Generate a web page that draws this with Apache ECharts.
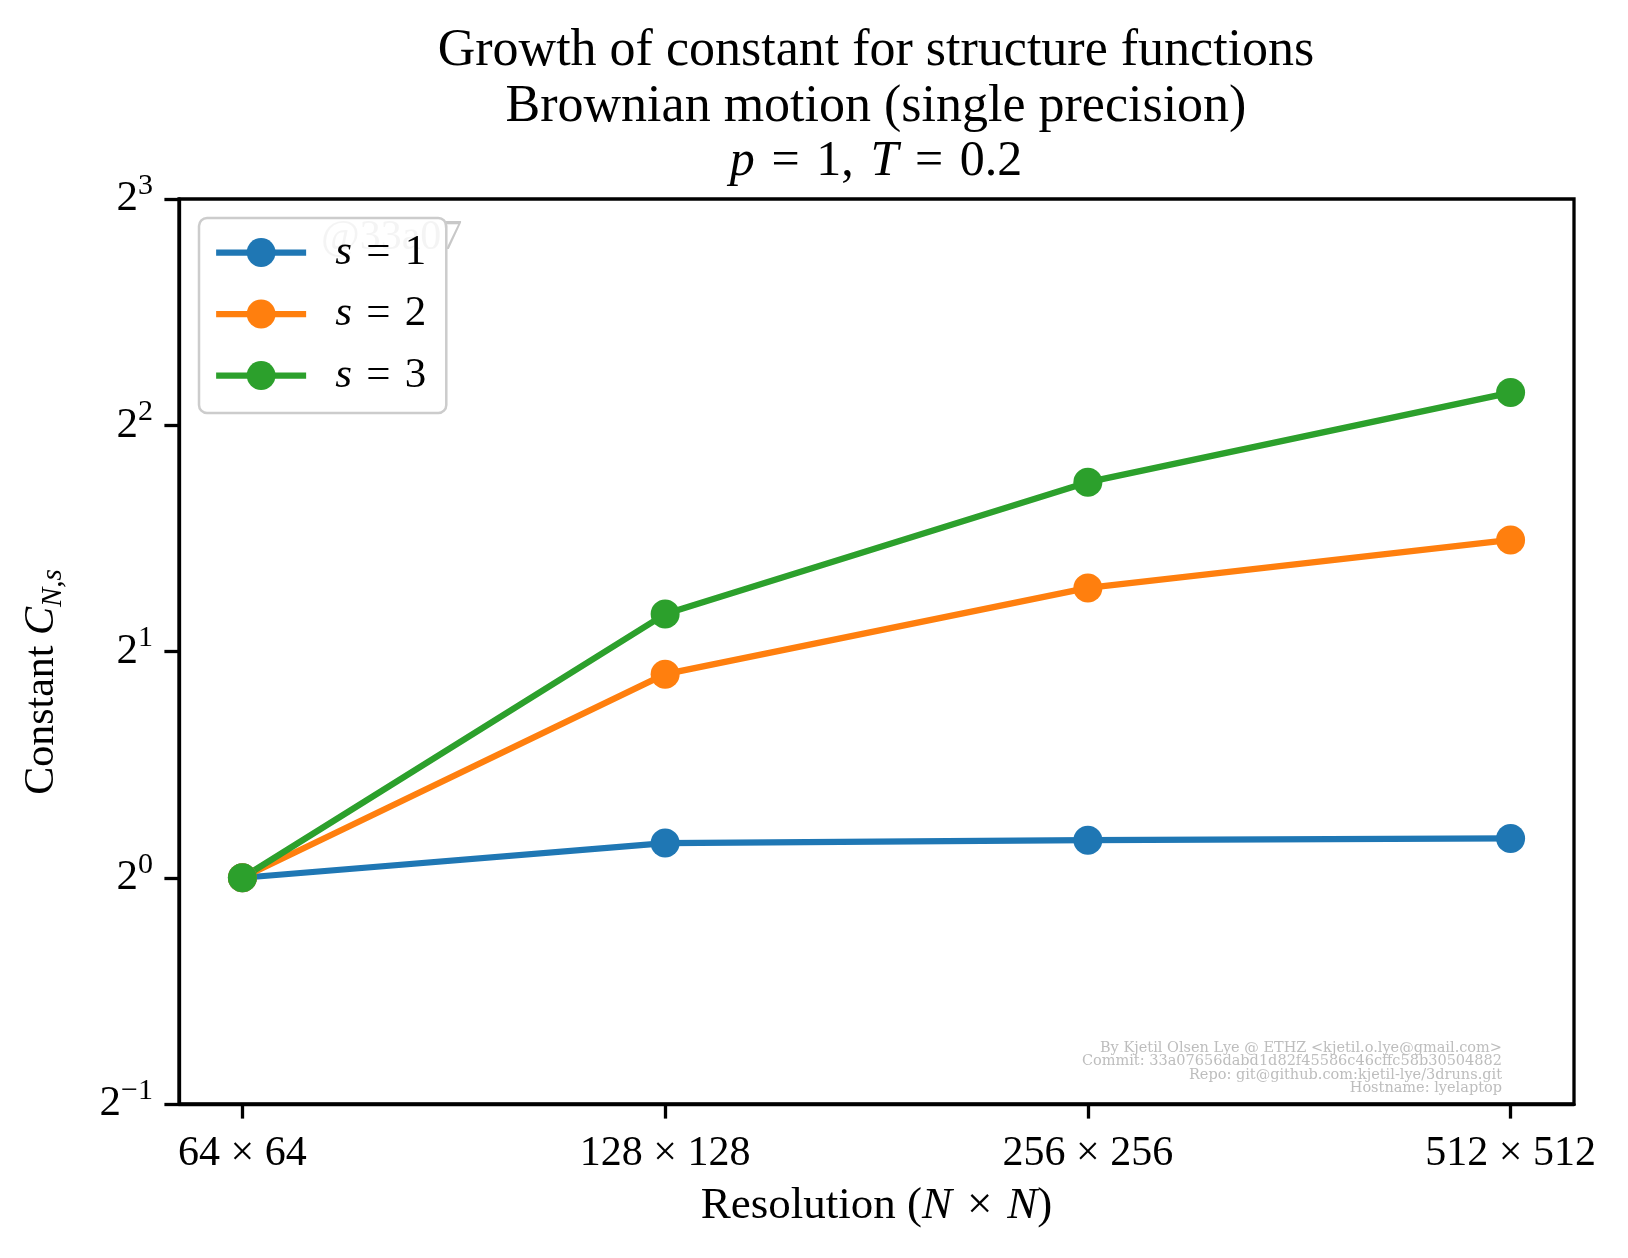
<!DOCTYPE html>
<html>
<head>
<meta charset="utf-8" />
<title>Growth of constant for structure functions</title>
<script src="https://cdn.jsdelivr.net/npm/echarts@6/dist/echarts.min.js"></script>
<style>
  body { margin: 0; background: #fff; }
  #chart { width: 1628px; height: 1258px; }
</style>
</head>
<body>
<div id="chart"></div>
<script>
// resolutions N (N x N grids), one category per tick
const resolutionLabels = ['64 × 64', '128 × 128', '256 × 256', '512 × 512'];
const seriesNames = ['s = 1', 's = 2', 's = 3'];
const s1Values = [1.0, 1.112, 1.122, 1.128];
const s2Values = [1.0, 1.866, 2.430, 2.815];
const s3Values = [1.0, 2.243, 3.360, 4.421];
const colors = ['#1f77b4', '#ff7f0e', '#2ca02c'];
const footerLines = [
  'By Kjetil Olsen Lye @ ETHZ <kjetil.o.lye@gmail.com>',
  'Commit: 33a07656dabd1d82f45586c46cffc58b30504882',
  'Repo: git@github.com:kjetil-lye/3druns.git',
  'Hostname: lyelaptop'
];

const FONT = '"Liberation Serif", "DejaVu Serif", serif';
const tickIdx = resolutionLabels.map((_, i) => i);
const SP = '\u2004'; // a bit wider than a normal space, like TeX math spacing

function toPoints(vals) {
  return vals.map((v, i) => [i, v]);
}

const allValues = [s1Values, s2Values, s3Values];

const chart = echarts.init(document.getElementById('chart'));

chart.setOption({
  backgroundColor: '#fff',
  animation: false,
  color: colors,
  grid: {
    left: 179, top: 199, right: 54, bottom: 154,
    show: true, borderColor: '#000', borderWidth: 3.3, backgroundColor: 'transparent'
  },
  xAxis: {
    type: 'value',
    min: -0.15,
    max: 3.15,
    name: 'Resolution ({i|N}' + SP + '×' + SP + '{i|N})',
    nameLocation: 'middle',
    nameGap: 80,
    nameTextStyle: {
      fontFamily: FONT, fontSize: 45, color: '#000',
      rich: { i: { fontFamily: FONT, fontSize: 45, fontStyle: 'italic', color: '#000' } }
    },
    axisLine: { show: true, onZero: false, lineStyle: { color: '#000', width: 3.3 } },
    axisTick: { show: true, length: 14.6, lineStyle: { color: '#000', width: 3.3 }, customValues: tickIdx },
    axisLabel: {
      customValues: tickIdx,
      margin: 29,
      fontFamily: FONT, fontSize: 42, color: '#000',
      formatter: v => resolutionLabels[Math.round(v)]
    },
    splitLine: { show: false }
  },
  yAxis: {
    type: 'log',
    logBase: 2,
    min: 0.5,
    max: 8,
    axisLine: { show: true, onZero: false, lineStyle: { color: '#000', width: 3.3 } },
    axisTick: { show: true, length: 14.6, lineStyle: { color: '#000', width: 3.3 } },
    minorTick: { show: false },
    axisLabel: {
      margin: 26,
      formatter: v => {
        const e = Math.round(Math.log2(v));
        return '{b|2}{s|' + (e < 0 ? '−' + (-e) : e) + '}';
      },
      rich: {
        b: { fontFamily: FONT, fontSize: 43, color: '#000', lineHeight: 56 },
        s: { fontFamily: FONT, fontSize: 30, color: '#000', lineHeight: 30, verticalAlign: 'top' }
      }
    },
    splitLine: { show: false }
  },
  legend: {
    orient: 'vertical',
    left: 199,
    top: 218,
    itemWidth: 90,
    itemHeight: 36,
    itemGap: 18.5,
    padding: [13, 20, 16, 14],
    backgroundColor: 'rgba(255,255,255,0.8)',
    borderColor: '#cccccc',
    borderWidth: 2.5,
    borderRadius: 8,
    data: seriesNames,
    lineStyle: { width: 6.25 },
    formatter: name => '{i|s}' + SP + '=' + SP + name.slice(-1),
    textStyle: {
      fontFamily: FONT, fontSize: 43, color: '#000',
      rich: { i: { fontFamily: FONT, fontSize: 43, fontStyle: 'italic', color: '#000', padding: [0, 0, 0, 24] } }
    }
  },
  series: seriesNames.map((name, k) => ({
    name: name,
    type: 'line',
    data: toPoints(allValues[k]),
    symbol: 'circle',
    symbolSize: 29,
    lineStyle: { width: 6.25, color: colors[k] },
    itemStyle: { color: colors[k] }
  })),
  graphic: [
    {
      type: 'text', x: 876, y: 51,
      style: { text: 'Growth of constant for structure functions', fontFamily: FONT, fontSize: 52,
               fill: '#000', textAlign: 'center', textVerticalAlign: 'middle' }
    },
    {
      type: 'text', x: 876, y: 107,
      style: { text: 'Brownian motion (single precision)', fontFamily: FONT, fontSize: 52,
               fill: '#000', textAlign: 'center', textVerticalAlign: 'middle' }
    },
    {
      type: 'text', x: 876, y: 162,
      style: { text: '{i|p}' + SP + '=' + SP + '1,' + SP + '{i|T}' + SP + '=' + SP + '0.2', fontFamily: FONT, fontSize: 50,
               fill: '#000', textAlign: 'center', textVerticalAlign: 'middle',
               rich: { i: { fontFamily: FONT, fontSize: 50, fontStyle: 'italic', fill: '#000' } } }
    },
    {
      // y axis title, rotated
      type: 'text', x: 42, y: 682, rotation: Math.PI / 2,
      style: {
        text: '{t|Constant }{i|C}{sub|N,s}',
        textAlign: 'center', textVerticalAlign: 'middle',
        rich: {
          t: { fontFamily: FONT, fontSize: 42, fill: '#000', lineHeight: 52 },
          i: { fontFamily: FONT, fontSize: 42, fontStyle: 'italic', fill: '#000', lineHeight: 52 },
          sub: { fontFamily: FONT, fontSize: 29, fontStyle: 'italic', fill: '#000', lineHeight: 29, verticalAlign: 'bottom' }
        }
      }
    },
    {
      type: 'text', x: 321, y: 238, z: 1,
      style: { text: '@33a07', fontFamily: FONT, fontSize: 42, fill: '#c8c8c8',
               textAlign: 'left', textVerticalAlign: 'middle' }
    },
    {
      type: 'text', x: 1502, y: 1095, z: 100,
      style: { text: footerLines.join('\n'), fontFamily: '"DejaVu Serif", serif', fontSize: 14.5, lineHeight: 13.4,
               fill: '#bdbdbd', textAlign: 'right', textVerticalAlign: 'bottom' }
    }
  ]
});
</script>
</body>
</html>
